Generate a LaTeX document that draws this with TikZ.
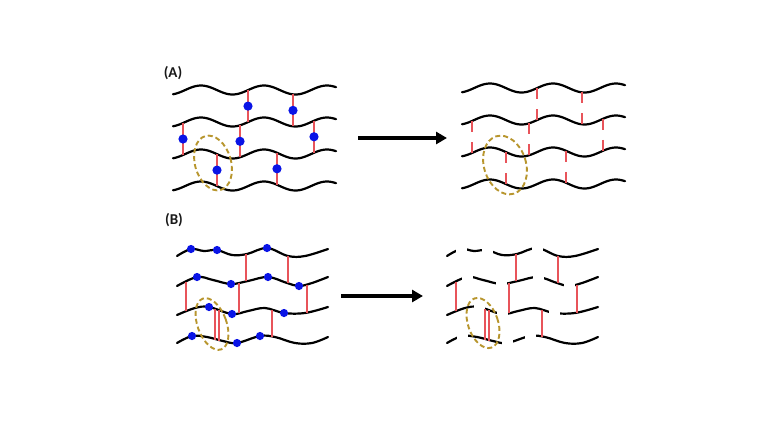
\documentclass[tikz,border=0pt]{standalone}
\usepackage{fontspec}
\setmainfont{Carlito}
\usetikzlibrary{arrows.meta}
\definecolor{bondred}{RGB}{232,84,90}
\definecolor{dotblue}{RGB}{10,20,230}
\definecolor{loopgold}{RGB}{184,150,46}
\newcommand{\wav}[1]{4.5*cos(5.7143*(#1-201))}
\newcommand{\chainsB}{%
  \draw[chain] plot[smooth, tension=0.6] coordinates {(177,256) (191,249) (204,251) (217,250) (232,255) (247,254) (267,248) (288,256) (305,256) (328,249)};
  \draw[chain] plot[smooth, tension=0.6] coordinates {(177,286) (197,277) (213,280) (231,284) (248,281) (268,277) (287,283) (299,286) (312,283) (328,277)};
  \draw[chain] plot[smooth, tension=0.6] coordinates {(177,315) (195,308) (209,307) (232,314) (248,311) (265,308) (284,313) (305,313) (328,307)};
  \draw[chain] plot[smooth, tension=0.6] coordinates {(177,343) (192,336) (207,337) (223,341) (237,343) (260,336) (275,337) (295,343) (312,343) (328,337)};}
\newcommand{\bondsB}{%
  \foreach \bx/\ya/\yb in {246/254/281, 288/256/283, 186/282/311, 239/283/313, 307/285/313, 215/309/340, 219/310/341, 272/310/337}
    \draw[bond] (\bx,\ya) -- (\bx,\yb);}
\def\dotsB{191/249, 217/250, 267/248, 197/277, 231/284, 268/277, 299/286, 209/307, 232/314, 284/313, 192/336, 237/343, 260/336}

\begin{document}
\begin{tikzpicture}[x=1pt, y=-1pt,
  chain/.style={line width=2.2pt, line cap=round},
  bond/.style={bondred, line width=1.7pt},
  cutbond/.style={bond, dash pattern=on 11pt off 10pt},
  loop/.style={loopgold, line width=1.9pt, dash pattern=on 5pt off 3pt},
  panel/.style={font=\bfseries\fontsize{15}{17}\selectfont, text=black!90},
  >={Triangle[length=11pt, width=12pt]}]
	\fill[white] (0,0) rectangle (768,432);
	\useasboundingbox (0,0) rectangle (768,432);
	\node[panel] (labA) at (173,73) {(A)};
	\node[panel] (labB) at (174,220) {(B)};
	\foreach \c in {90,122,154,186}
		\draw[chain] plot[domain=173:336, samples=80] (\x, {\c-\wav{\x}});
	\foreach \bx/\c in {248/90, 293/90, 183/122, 240/122, 314/122, 217/154, 277/154} {
		\draw[bond] (\bx, {\c-\wav{\bx}}) -- ++(0,32);
		\fill[dotblue] (\bx, {\c+16-\wav{\bx}}) circle (4.6pt);
	}
	\draw[loop, rotate around={16:(213,163)}] (213,163) ellipse [x radius=18, y radius=28];
	\begin{scope}[shift={(289,-2)}]
		\foreach \c in {90,122,154,186}
			\draw[chain] plot[domain=173:336, samples=80] (\x, {\c-\wav{\x}});
		\foreach \bx/\c in {248/90, 293/90, 183/122, 240/122, 314/122, 217/154, 277/154}
			\draw[cutbond] (\bx, {\c-\wav{\bx}}) -- ++(0,32);
		\draw[loop, rotate around={17:(216,167)}] (216,167) ellipse [x radius=21, y radius=30];
	\end{scope}
	\coordinate (arrA-s) at (358,138);
	\coordinate (arrA-e) at (447,138);
	\draw[->, line width=3.8pt] (arrA-s) -- (arrA-e);
	\chainsB
	\bondsB
	\foreach \px/\py in \dotsB
		\fill[dotblue] (\px,\py) circle (4.1pt);
	\draw[loop, rotate around={20:(212,324)}] (212,324) ellipse [x radius=14.5, y radius=27];
	\begin{scope}[shift={(270,0)}]
		\chainsB
		\foreach \px/\py in \dotsB
			\fill[white] (\px-5.5,\py-7) rectangle +(11,14);
		\bondsB
		\draw[loop, rotate around={19:(213,323)}] (213,323) ellipse [x radius=15, y radius=26];
	\end{scope}
	\coordinate (arrB-s) at (341,296);
	\coordinate (arrB-e) at (423,296);
	\draw[->, line width=3.8pt] (arrB-s) -- (arrB-e);
\end{tikzpicture}
\end{document}
